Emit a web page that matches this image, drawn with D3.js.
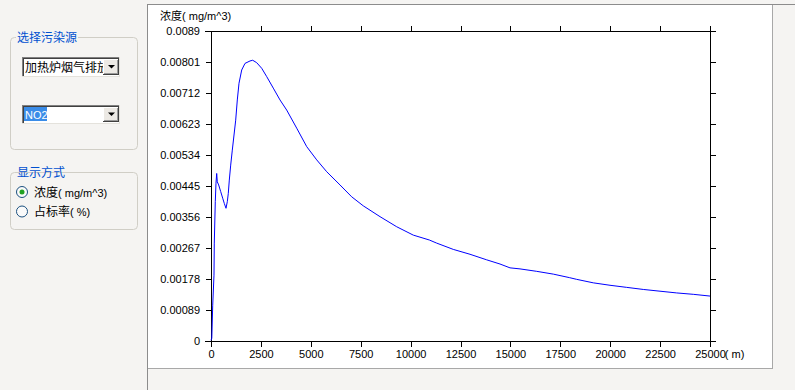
<!DOCTYPE html>
<html>
<head>
<meta charset="utf-8">
<script src="https://cdn.jsdelivr.net/npm/d3@7"></script>
<style>
  body { margin: 0; background: #f5f4f2; }
  svg { display: block; }
  text { font-family: "Liberation Sans", "Noto Sans CJK SC", sans-serif; }
</style>
</head>
<body>
<div id="chart"></div>
<script>
// Concentration curve (distance in m, concentration in mg/m^3)
var distance = [0, 40, 85, 150, 165, 215, 250, 285, 315, 385, 486, 586, 666, 752, 817, 867, 917, 987, 1067,
  1237, 1318, 1403, 1538, 1703, 1954, 2089, 2290, 2540, 2791, 3121, 3457, 3792, 4294, 4795, 5296, 5797,
  6463, 7049, 7630, 8467, 9304, 10135, 10937, 11307, 12139, 12976, 13812, 14479, 14980, 15481, 16318,
  17149, 17951, 18321, 19153, 19990, 20826, 21657, 22495, 23331, 24163, 25000];
var concentration = [0.00002, 0.00008, 0.00101, 0.00189, 0.00281, 0.0040, 0.00453, 0.00481, 0.00457, 0.00448,
  0.00429, 0.00410, 0.00395, 0.00381, 0.0040, 0.00424, 0.00462, 0.00505, 0.00548,
  0.00634, 0.00692, 0.0074, 0.00778, 0.00797, 0.00804, 0.00806, 0.00799, 0.00783, 0.00759, 0.00726, 0.00692,
  0.00663, 0.00611, 0.00558, 0.0052, 0.00486, 0.00448, 0.00414, 0.00388, 0.00357, 0.00328, 0.00304, 0.0029,
  0.00281, 0.00263, 0.00249, 0.00233, 0.00221, 0.0021, 0.00207, 0.0020, 0.00192, 0.00182, 0.00177, 0.00167,
  0.0016, 0.00154, 0.00148, 0.00143, 0.00138, 0.00134, 0.00129];

var xTicks = [0, 2500, 5000, 7500, 10000, 12500, 15000, 17500, 20000, 22500, 25000];
var yTickLabels = ["0", "0.00089", "0.00178", "0.00267", "0.00356", "0.00445", "0.00534",
  "0.00623", "0.00712", "0.00801", "0.0089"];

var sourceName = "加热炉烟气排放";
var pollutant = "NO2";
var displayModes = [["浓度", "( mg/m^3)"], ["占标率", "( %)"]];

var W = 795, H = 390;
var svg = d3.select("#chart").append("svg").attr("width", W).attr("height", H);

// ---------- left panel ----------
function groupBox(x, y, w, h, title) {
  svg.append("rect").attr("x", x + 0.5).attr("y", y + 0.5).attr("width", w).attr("height", h)
    .attr("rx", 4).attr("fill", "none").attr("stroke", "#d0cec6");
  var t = svg.append("text").attr("x", x + 7).attr("y", y + 4.5)
    .attr("font-size", "12px").attr("fill", "#0050d0").text(title);
  var bb = t.node().getBBox();
  svg.insert("rect", "text").attr("x", bb.x - 1).attr("y", y - 2).attr("width", bb.width + 2)
    .attr("height", 5).attr("fill", "#f5f4f2");
}
groupBox(10, 37, 127, 112, "选择污染源");
groupBox(10, 172, 127, 57, "显示方式");

function combo(y, h) {
  var g = svg.append("g").attr("shape-rendering", "crispEdges");
  g.append("rect").attr("x", 22).attr("y", y).attr("width", 98).attr("height", h).attr("fill", "#fff");
  g.append("path").attr("d", "M22.5," + (y + h) + "V" + (y + 0.5) + "H120").attr("stroke", "#808080").attr("fill", "none");
  g.append("path").attr("d", "M23.5," + (y + h - 1) + "V" + (y + 1.5) + "H119").attr("stroke", "#404040").attr("fill", "none");
  g.append("path").attr("d", "M22," + (y + h - 0.5) + "H119.5V" + y).attr("stroke", "#e4e2dc").attr("fill", "none");
  // drop button
  g.append("rect").attr("x", 103).attr("y", y + 2).attr("width", 16).attr("height", h - 4).attr("fill", "#ece9e4");
  g.append("path").attr("d", "M103.5," + (y + h - 2) + "V" + (y + 2.5) + "H119").attr("stroke", "#fff").attr("fill", "none");
  g.append("path").attr("d", "M103," + (y + h - 2.5) + "H118.5V" + (y + 2)).attr("stroke", "#404040").attr("fill", "none");
  g.append("path").attr("d", "M104," + (y + h - 3.5) + "H117.5V" + (y + 3)).attr("stroke", "#9a9a9a").attr("fill", "none");
  var cy = y + h / 2 - 0.5;
  svg.append("path").attr("d", "M108," + (cy - 1.5) + "H115L111.5," + (cy + 2) + "Z").attr("fill", "#000");
  return g;
}
combo(57, 20);
svg.append("clipPath").attr("id", "clip1").append("rect").attr("x", 24).attr("y", 58).attr("width", 79).attr("height", 18);
svg.append("text").attr("x", 25).attr("y", 72).attr("font-size", "12px").attr("clip-path", "url(#clip1)")
  .text(sourceName);

combo(105, 19);
svg.append("rect").attr("x", 24).attr("y", 107).attr("width", 23).attr("height", 14).attr("fill", "#3a8ce8");
svg.append("text").attr("x", 25).attr("y", 118.5).attr("font-size", "11px").attr("fill", "#fff").text(pollutant);

var radio = svg.selectAll("g.radio").data(displayModes).enter().append("g").attr("class", "radio")
  .attr("transform", function (d, i) { return "translate(22," + (192 + i * 19.5) + ")"; });
radio.append("circle").attr("r", 5.5).attr("fill", "#fafafa").attr("stroke", "#1c5180");
radio.filter(function (d, i) { return i == 0; }).append("circle").attr("r", 2.5).attr("fill", "#21a121");
var rt = radio.append("text").attr("x", 12).attr("y", 4.5);
rt.append("tspan").attr("font-size", "12px").text(function (d) { return d[0]; });
rt.append("tspan").attr("font-size", "11px").text(function (d) { return d[1]; });

// ---------- chart area frame ----------
svg.append("rect").attr("x", 148).attr("y", 5).attr("width", 624).attr("height", 364).attr("fill", "#fff");
svg.append("path").attr("d", "M147.5,390V4.5H795").attr("stroke", "#8c8c8c").attr("fill", "none").attr("shape-rendering", "crispEdges");
svg.append("path").attr("d", "M148,368.5H772.5V5").attr("stroke", "#a8a8a8").attr("fill", "none").attr("shape-rendering", "crispEdges");

// ---------- plot ----------
var x = d3.scaleLinear().domain([0, 25000]).range([211, 710]);
var y = d3.scaleLinear().domain([0, 0.0089]).range([341, 31]);
var yTicks = yTickLabels.map(Number);

function styleAxis(g) {
  g.attr("font-family", null).attr("font-size", null);
  g.selectAll("text").attr("font-size", "11px").attr("fill", "#000");
  g.selectAll("line").attr("stroke", "#000").attr("shape-rendering", "crispEdges");
  g.select(".domain").remove();
}

var xAxisG = svg.append("g").attr("transform", "translate(0,341)")
  .call(d3.axisBottom(x).tickValues(xTicks).tickSize(6).tickPadding(3)
    .tickFormat(function (d) { return d; }))
  .call(styleAxis);
svg.append("g").attr("transform", "translate(0,31)")
  .call(d3.axisTop(x).tickValues(xTicks.slice(1)).tickSize(5).tickFormat(""))
  .call(styleAxis);
svg.append("g").attr("transform", "translate(211,0)")
  .call(d3.axisLeft(y).tickValues(yTicks).tickSize(5).tickPadding(6)
    .tickFormat(function (d, i) { return yTickLabels[i]; }))
  .call(styleAxis);
svg.append("g").attr("transform", "translate(710,0)")
  .call(d3.axisRight(y).tickValues(yTicks.slice(0, -1)).tickSize(6).tickFormat(""))
  .call(styleAxis);

// frame lines
var frame = svg.append("g").attr("stroke", "#000").attr("shape-rendering", "crispEdges");
frame.append("line").attr("x1", 205).attr("x2", 716).attr("y1", 341.5).attr("y2", 341.5);
frame.append("line").attr("x1", 205).attr("x2", 716).attr("y1", 31.5).attr("y2", 31.5);
frame.append("line").attr("x1", 211.5).attr("x2", 211.5).attr("y1", 31).attr("y2", 347);
frame.append("line").attr("x1", 710.5).attr("x2", 710.5).attr("y1", 26).attr("y2", 347);

// unit appended right after the last x label
var lastLabel = xAxisG.selectAll(".tick text").filter(function (d) { return d == 25000; });
var lastW = lastLabel.node().getComputedTextLength();
svg.append("text").attr("x", x(25000) + lastW / 2 - 0.5).attr("y", 341 + 6 + 3).attr("dy", "0.71em")
  .attr("font-size", "11px").text("( m)");

// y title
var yt = svg.append("text").attr("x", 160).attr("y", 20);
yt.append("tspan").attr("font-size", "11px").text("浓度");
yt.append("tspan").attr("font-size", "11px").text("( mg/m^3)");

// curve
var line = d3.line().x(function (d, i) { return x(distance[i]); }).y(function (d) { return y(d); });
svg.append("path").datum(concentration).attr("d", line)
  .attr("fill", "none").attr("stroke", "#0000ff").attr("stroke-width", 1);
</script>
</body>
</html>
